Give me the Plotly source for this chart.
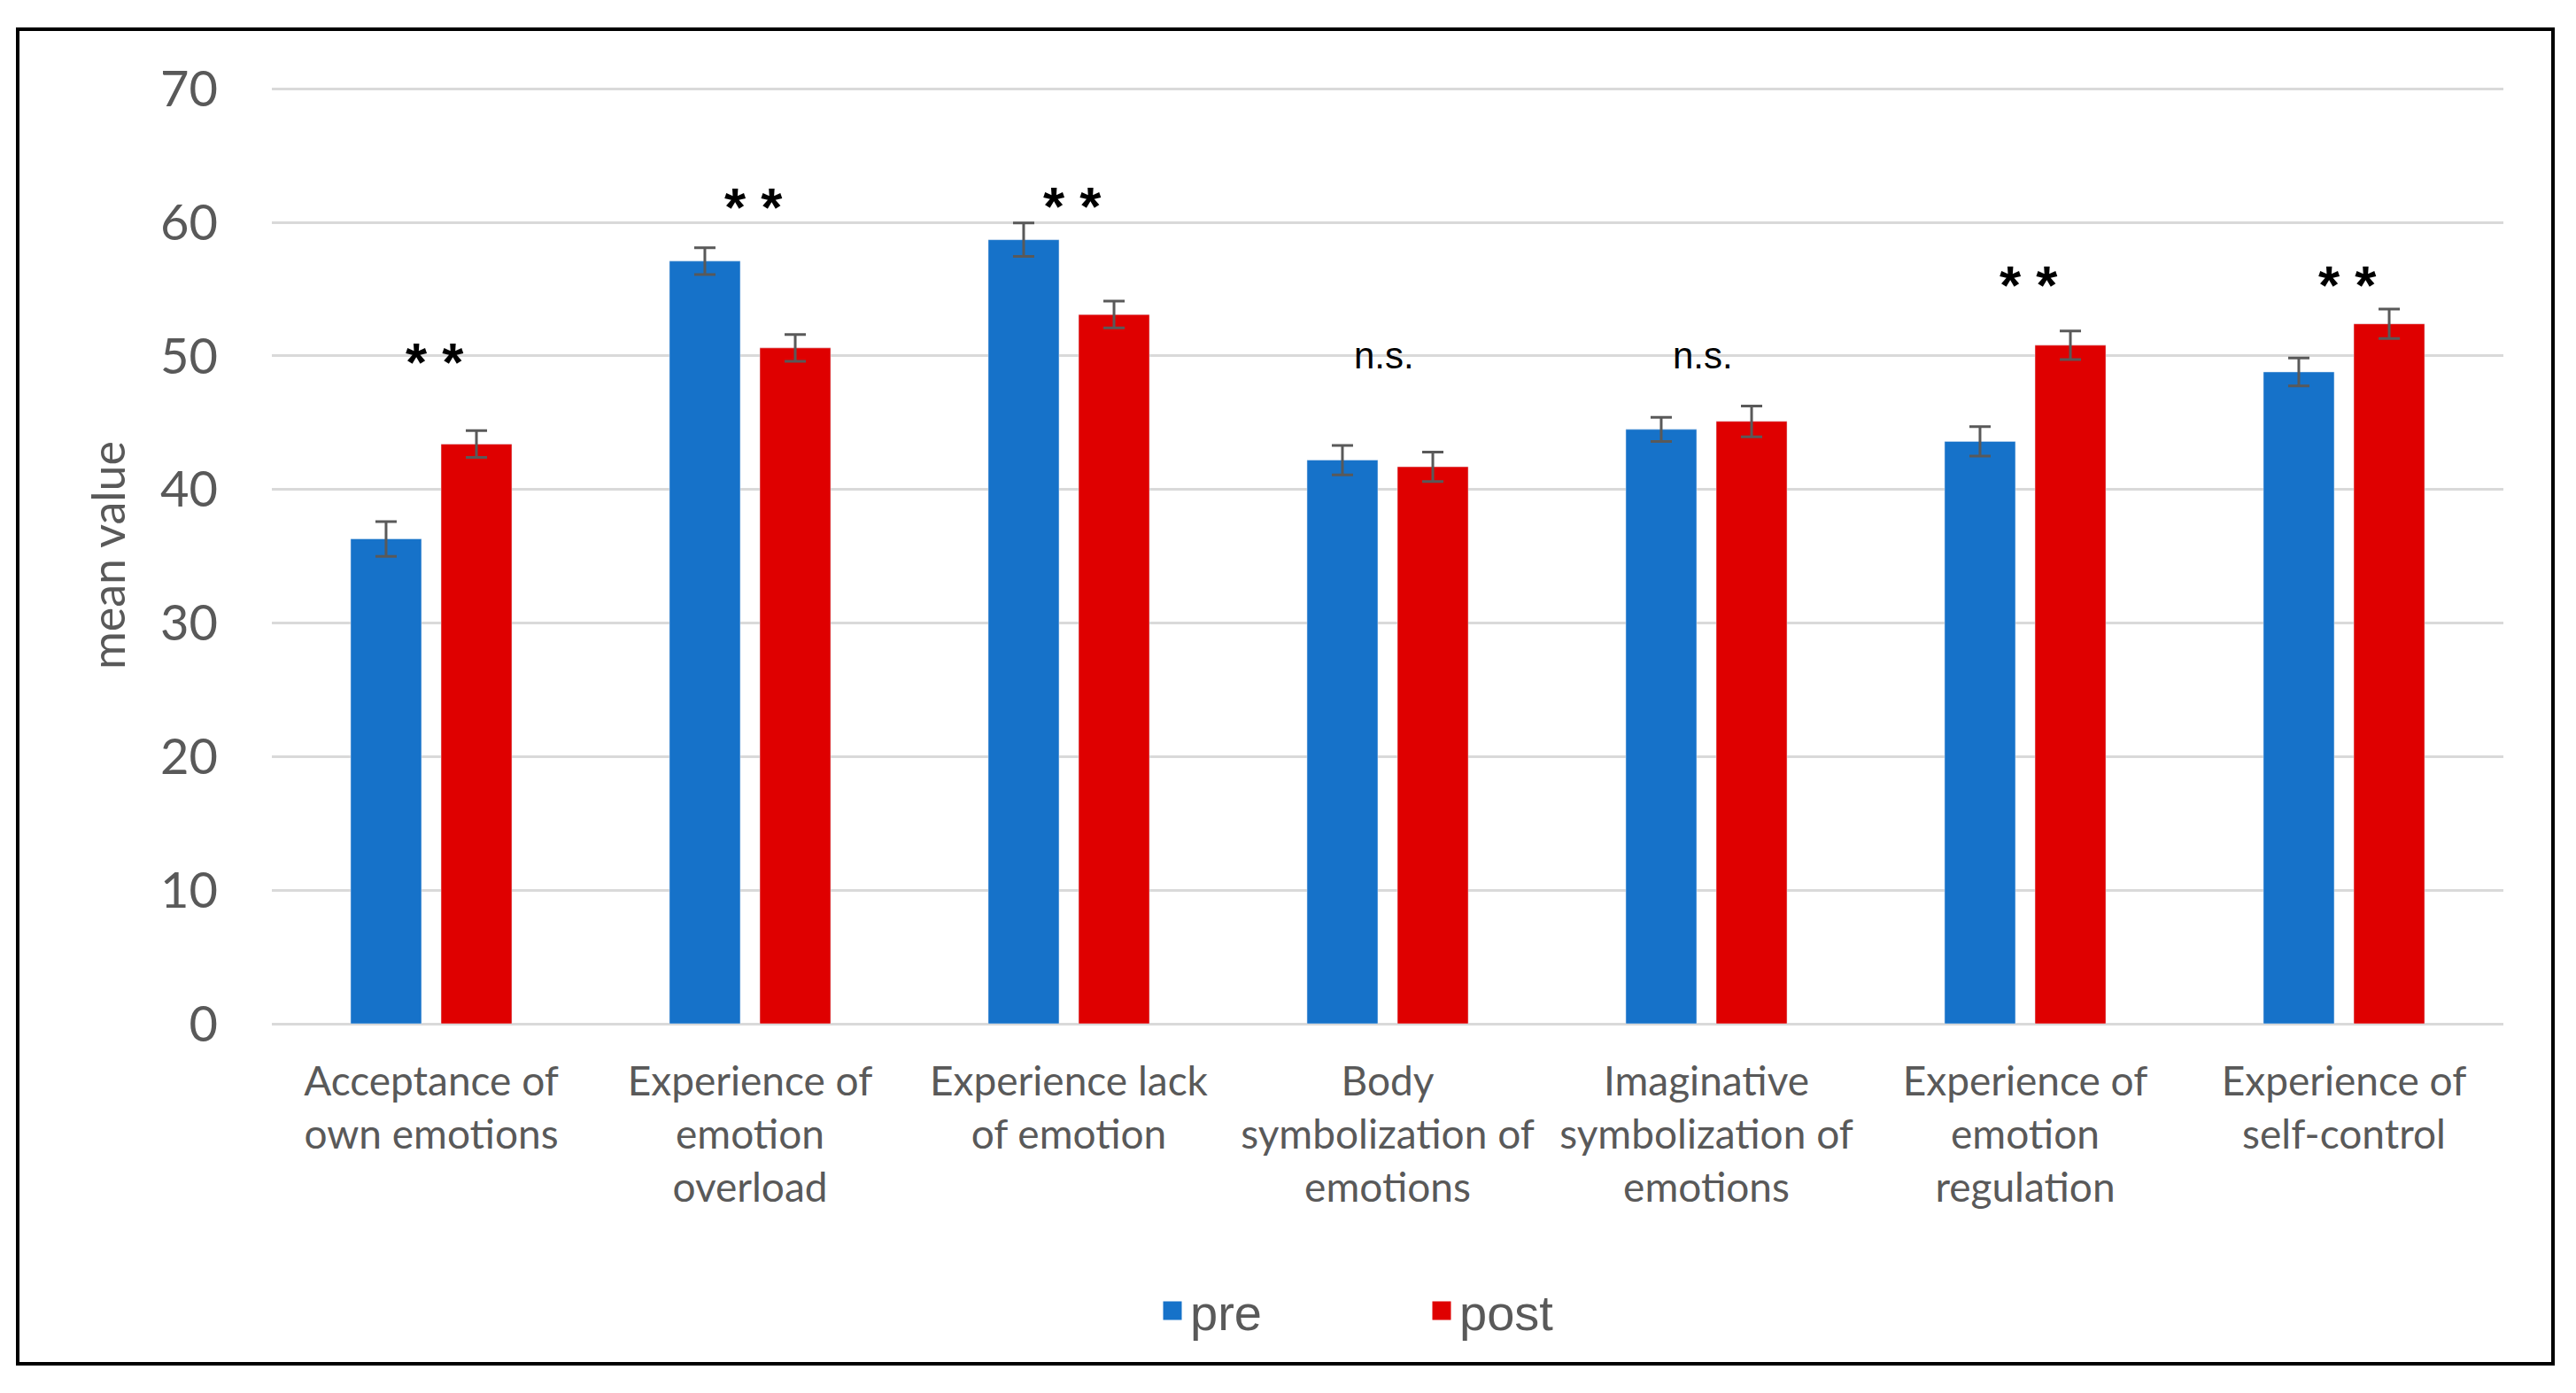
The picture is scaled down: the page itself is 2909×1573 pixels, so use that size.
import plotly.graph_objects as go

categories = [
    "Acceptance of own emotions",
    "Experience of emotion overload",
    "Experience lack of emotion",
    "Body symbolization of emotions",
    "Imaginative symbolization of emotions",
    "Experience of emotion regulation",
    "Experience of self-control",
]
tick_labels = [
    "Acceptance of<br>own emotions",
    "Experience of<br>emotion<br>overload",
    "Experience lack<br>of emotion",
    "Body<br>symbolization of<br>emotions",
    "Imaginative<br>symbolization of<br>emotions",
    "Experience of<br>emotion<br>regulation",
    "Experience of<br>self-control",
]
pre_values = [36.3, 57.1, 58.7, 42.2, 44.5, 43.6, 48.8]
pre_errors = [1.3, 1.0, 1.25, 1.1, 0.9, 1.1, 1.05]
post_values = [43.4, 50.6, 53.1, 41.7, 45.1, 50.8, 52.4]
post_errors = [1.0, 1.0, 1.0, 1.1, 1.15, 1.07, 1.1]
sig_labels = ["* *", "* *", "* *", "n.s.", "n.s.", "* *", "* *"]
sig_y = [50.0, 61.6, 61.7, 49.8, 49.8, 55.8, 55.8]

BLUE = "#1672C9"
RED = "#DF0000"
GRAY = "#595959"
FONT = "Lato"

fig = go.Figure()
fig.add_trace(go.Bar(
    name="pre", x=categories, y=pre_values, marker_color=BLUE,
    error_y=dict(type="data", array=pre_errors, color=GRAY, thickness=3, width=12),
    legendgroup="pre", showlegend=False,
))
fig.add_trace(go.Bar(
    name="post", x=categories, y=post_values, marker_color=RED,
    error_y=dict(type="data", array=post_errors, color=GRAY, thickness=3, width=12),
    legendgroup="post", showlegend=False,
))
# legend entries with larger square swatches
fig.add_trace(go.Scatter(
    name="pre", x=[categories[0]], y=[None], mode="markers",
    marker=dict(symbol="square", size=16, color=BLUE, line=dict(color=BLUE, width=5)),
    legendgroup="pre", showlegend=True, hoverinfo="skip",
))
fig.add_trace(go.Scatter(
    name="post", x=[categories[0]], y=[None], mode="markers",
    marker=dict(symbol="square", size=16, color=RED, line=dict(color=RED, width=5)),
    legendgroup="post", showlegend=True, hoverinfo="skip",
))

for cat, lab, yv in zip(categories, sig_labels, sig_y):
    if lab.startswith("*"):
        fig.add_annotation(x=cat, y=yv, text="<b>" + lab + "</b>", showarrow=False,
                           font=dict(family="Liberation Sans", size=62, color="black"),
                           yanchor="middle", yshift=-7, xshift=4)
    else:
        fig.add_annotation(x=cat, y=yv, text=lab, showarrow=False,
                           font=dict(family="Liberation Sans", size=42, color="black"),
                           yanchor="middle", yshift=3, xshift=-4)

L, R, T, B = 307, 82, 98, 417
W, H = 2909, 1573
pw = W - L - R
ph = H - T - B

def px_x(p):
    return (p - L) / pw

def px_y(p):
    return (H - B - p) / ph

fig.add_shape(type="rect", xref="paper", yref="paper",
              x0=px_x(20), x1=px_x(2883), y0=px_y(1540), y1=px_y(33),
              line=dict(color="black", width=4), fillcolor="rgba(0,0,0,0)", layer="below")

fig.update_layout(
    width=W, height=H,
    margin=dict(l=L, r=R, t=T, b=B, pad=0),
    paper_bgcolor="white", plot_bgcolor="white",
    barmode="group", bargap=0.433, bargroupgap=0.216,
    font=dict(family=FONT, color=GRAY),
    showlegend=True,
    legend=dict(orientation="h", x=px_x(1608), y=px_y(1480), xanchor="center", yanchor="middle",
                font=dict(family="Liberation Sans", size=56, color=GRAY),
                entrywidth=259, itemsizing="trace", bgcolor="rgba(0,0,0,0)"),
    xaxis=dict(type="category", tickmode="array", tickvals=categories, ticktext=tick_labels,
               tickfont=dict(family=FONT, size=46, color=GRAY), showgrid=False, showline=False,
               ticks="", ticklabelstandoff=34),
    yaxis=dict(range=[0, 70.15], tickmode="array", tickvals=[0, 10, 20, 30, 40, 50, 60, 70],
               showgrid=True, gridcolor="#D9D9D9", gridwidth=3,
               zeroline=True, zerolinecolor="#D9D9D9", zerolinewidth=3, showline=False,
               ticks="", tickfont=dict(family=FONT, size=56, color=GRAY), ticklabelstandoff=60,
               title=dict(text="mean value", font=dict(family=FONT, size=52, color=GRAY), standoff=22)),
)

fig.write_html("out.html", config={"displayModeBar": False},
               post_script="document.body.style.margin='0';document.body.style.overflow='hidden';")
